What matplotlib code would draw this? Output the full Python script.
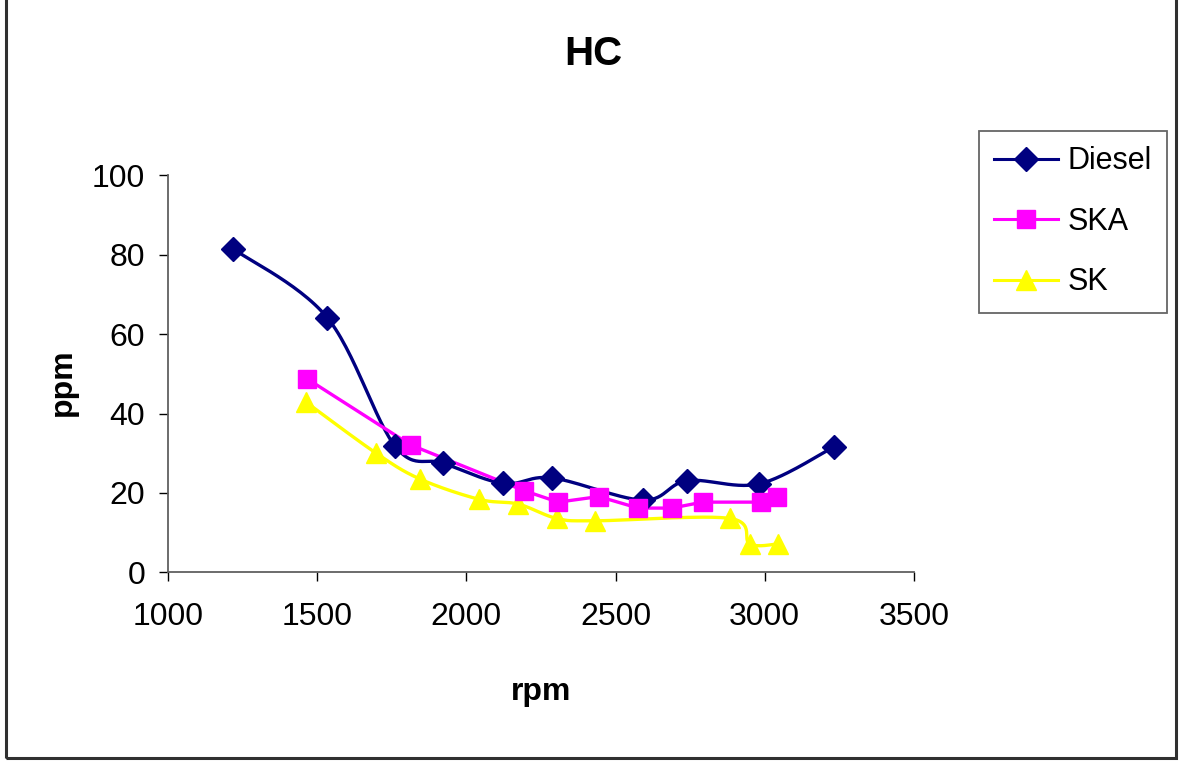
import numpy as np
import matplotlib
matplotlib.use('Agg')
from matplotlib import pyplot as plt
from matplotlib.patches import Rectangle

plt.rcParams['font.family'] = ['Liberation Sans', 'DejaVu Sans']

# HC emissions (ppm) against engine speed (rpm)
diesel_rpm = [1219, 1534, 1761, 1923, 2124, 2287, 2593, 2740, 2982, 3232]
diesel_hc = [81.4, 64.1, 31.8, 27.5, 22.4, 23.8, 18.2, 23.1, 22.3, 31.6]

ska_rpm = [1467, 1813, 2193, 2308, 2444, 2576, 2688, 2792, 2986, 3042]
ska_hc = [48.7, 32.1, 20.6, 17.7, 19.1, 16.2, 16.2, 17.7, 17.7, 19.1]

sk_rpm = [1462, 1696, 1845, 2043, 2174, 2303, 2431, 2883, 2950, 3045]
sk_hc = [42.9, 30.1, 23.5, 18.4, 17.2, 13.6, 13.0, 13.6, 7.2, 7.2]

x_ticks = [1000, 1500, 2000, 2500, 3000, 3500]
y_ticks = [0, 20, 40, 60, 80, 100]


def smooth(xs, ys, n=30):
    # Catmull-Rom curve through the points, like a spreadsheet "smoothed line"
    p = np.column_stack([xs, ys]).astype(float)
    p = np.vstack([p[0], p, p[-1]])
    out = []
    for i in range(1, len(p) - 2):
        p0, p1, p2, p3 = p[i - 1], p[i], p[i + 1], p[i + 2]
        c1 = p1 + (p2 - p0) / 6.0
        c2 = p2 - (p3 - p1) / 6.0
        t = np.linspace(0, 1, n)[:, None]
        seg = ((1 - t) ** 3 * p1 + 3 * (1 - t) ** 2 * t * c1
               + 3 * (1 - t) * t ** 2 * c2 + t ** 3 * p2)
        out.append(seg if i == 1 else seg[1:])
    seg = np.vstack(out)
    return seg[:, 0], seg[:, 1]


fig = plt.figure(figsize=(11.82, 7.63), dpi=100)
ax = fig.add_axes([0.1421, 0.2497, 0.6311, 0.5209])

navy = '#000080'
magenta = '#FF00FF'
yellow = '#FFFF00'

d_style = dict(marker='D', ms=12, color=navy)
s_style = dict(marker='s', ms=12.5, color=magenta)
t_style = dict(marker='^', ms=14.5, color=yellow)

sx, sy = smooth(diesel_rpm, diesel_hc)
ax.plot(sx, sy, color=navy, lw=2.4, zorder=3)
ax.plot(diesel_rpm, diesel_hc, ls='none', zorder=4, **d_style)

ax.plot(ska_rpm, ska_hc, color=magenta, lw=2.4, zorder=3)
ax.plot(ska_rpm, ska_hc, ls='none', zorder=4, **s_style)

sx, sy = smooth(sk_rpm, sk_hc)
ax.plot(sx, sy, color=yellow, lw=2.4, zorder=2)
ax.plot(sk_rpm, sk_hc, ls='none', zorder=2, **t_style)

# legend handles
h1, = ax.plot([], [], lw=2.2, **d_style)
h2, = ax.plot([], [], lw=2.2, **s_style)
h3, = ax.plot([], [], lw=2.2, **t_style)
leg = fig.legend([h1, h2, h3], ['Diesel', 'SKA', 'SK'],
                 loc='upper left', bbox_to_anchor=(979 / 1182, 1 - 131 / 763),
                 fontsize=22, handlelength=2.1, handletextpad=0.3,
                 labelspacing=1.0, borderpad=0.5, borderaxespad=0,
                 frameon=True, fancybox=False, edgecolor='#404040')
leg.get_frame().set_linewidth(1.3)

ax.set_xlim(1000, 3500)
ax.set_ylim(0, 100)
ax.set_xticks(x_ticks)
ax.set_yticks(y_ticks)
ax.tick_params(axis='both', direction='out', length=6.5, width=1,
               labelsize=23, color='black')
ax.tick_params(axis='x', pad=15)
ax.tick_params(axis='y', pad=10)
for side in ['top', 'right']:
    ax.spines[side].set_visible(False)
for side in ['left', 'bottom']:
    ax.spines[side].set_color('#606060')
    ax.spines[side].set_linewidth(1.3)

fig.text(593 / 1182, 1 - 54 / 763, 'HC', fontsize=29, fontweight='bold',
         ha='center', va='center')
fig.text(541 / 1182, 1 - 692 / 763, 'rpm', fontsize=23, fontweight='bold',
         ha='center', va='center')
fig.text(63 / 1182, 1 - 382 / 763, 'ppm', fontsize=23, fontweight='bold',
         ha='center', va='center', rotation=90)

# outer chart border
fig.patches.append(Rectangle((6 / 1182, 5 / 763), 1170 / 1182, 1.0,
                             transform=fig.transFigure, fill=False,
                             edgecolor='#303030', lw=2.2))

fig.savefig('out.png', dpi=100)
